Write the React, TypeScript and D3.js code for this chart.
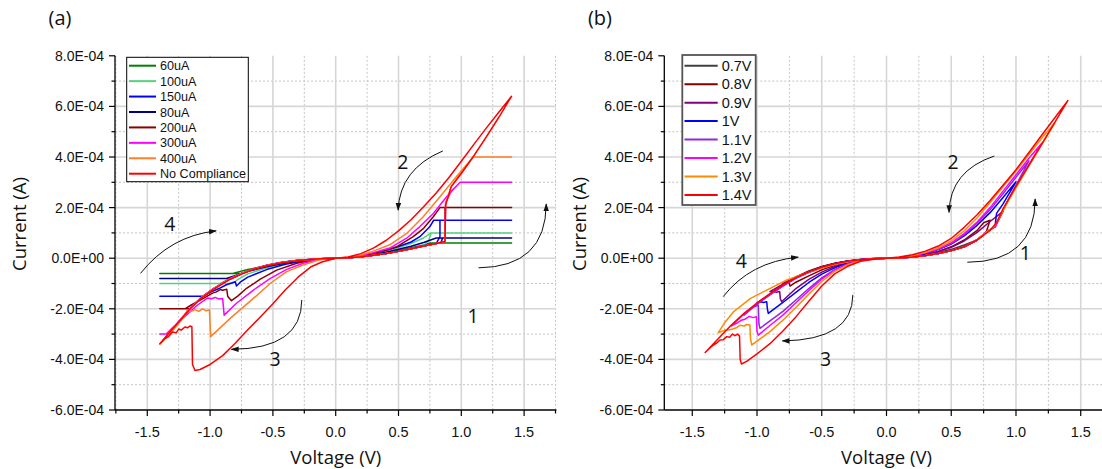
import React from "react";
import * as d3 from "d3";

type Pt = [number, number]; // [voltage V, current µA]

// ---------------- Panel (a): compliance current series ----------------
const a60uA: Pt[] = [
  [0, 0], [0.1, 2], [0.2, 6], [0.3, 12], [0.4, 19], [0.5, 27], [0.6, 37], [0.7, 48], [0.78, 57], [0.8, 60], [1.4, 60],
  [0.75, 60], [0.7, 52], [0.6, 41], [0.5, 31], [0.4, 22], [0.3, 14], [0.2, 7], [0.1, 2], [0, 0],
  [-0.12, -3], [-0.25, -8], [-0.4, -17], [-0.55, -30], [-0.7, -45], [-0.82, -60], [-1.4, -60],
  [-0.75, -60], [-0.655, -43], [-0.55, -29], [-0.44, -18], [-0.33, -10], [-0.23, -6], [-0.12, -2], [0, 0],
];
const a100uA: Pt[] = [
  [0, 0], [0.1, 2], [0.2, 6], [0.3, 12], [0.4, 19], [0.5, 28], [0.6, 38], [0.7, 50], [0.74, 70], [0.76, 100], [1.4, 100],
  [0.76, 100], [0.7, 80], [0.6, 58], [0.5, 42], [0.4, 28], [0.3, 17], [0.2, 9], [0.1, 3], [0, 0],
  [-0.12, -3], [-0.25, -9], [-0.4, -20], [-0.55, -38], [-0.7, -62], [-0.78, -85], [-0.82, -100], [-1.4, -100],
  [-0.92, -100], [-0.84, -80], [-0.75, -60], [-0.655, -42], [-0.55, -28], [-0.44, -17], [-0.33, -10], [-0.23, -6], [-0.12, -2], [0, 0],
];
const a150uA: Pt[] = [
  [0, 0], [0.1, 2], [0.2, 6], [0.3, 12], [0.4, 19], [0.5, 28], [0.6, 38], [0.7, 49], [0.8, 58], [0.83, 85], [0.83, 150], [1.4, 150],
  [0.78, 150], [0.75, 125], [0.67, 85], [0.6, 64], [0.5, 46], [0.4, 31], [0.3, 19], [0.2, 10], [0.1, 3], [0, 0],
  [-0.12, -3], [-0.25, -10], [-0.4, -24], [-0.55, -45], [-0.7, -75], [-0.76, -95], [-0.79, -110], [-0.8, -93], [-0.87, -105], [-0.93, -120], [-1.0, -135], [-1.05, -150], [-1.4, -150],
  [-1.055, -150], [-0.97, -119], [-0.84, -82], [-0.75, -62], [-0.655, -44], [-0.55, -29], [-0.44, -18], [-0.33, -10], [-0.23, -6], [-0.12, -2], [0, 0],
];
const a80uA: Pt[] = [
  [0, 0], [0.1, 2], [0.2, 6], [0.3, 12], [0.4, 19], [0.5, 27], [0.6, 37], [0.7, 48], [0.8, 58], [0.84, 63], [0.85, 80], [1.4, 80],
  [0.8, 80], [0.7, 62], [0.6, 47], [0.5, 35], [0.4, 24], [0.3, 15], [0.2, 8], [0.1, 2], [0, 0],
  [-0.12, -3], [-0.25, -9], [-0.4, -19], [-0.55, -34], [-0.7, -52], [-0.87, -80], [-1.4, -80],
  [-0.84, -80], [-0.75, -61], [-0.655, -43], [-0.55, -29], [-0.44, -18], [-0.33, -10], [-0.23, -6], [-0.12, -2], [0, 0],
];
const a200uA: Pt[] = [
  [0, 0], [0.1, 2], [0.2, 6], [0.3, 12], [0.4, 19], [0.5, 27], [0.6, 37], [0.7, 48], [0.8, 58], [0.87, 66], [0.87, 200], [1.4, 200],
  [0.83, 200], [0.777, 164], [0.7, 118], [0.617, 85], [0.485, 45], [0.4, 31], [0.3, 19], [0.2, 10], [0.1, 3], [0, 0],
  [-0.15, -5], [-0.31, -20], [-0.47, -47], [-0.6, -83], [-0.71, -119], [-0.78, -150], [-0.83, -168], [-0.86, -150], [-0.867, -123], [-0.9, -127], [-0.92, -124], [-0.95, -133], [-0.98, -138], [-1.05, -158], [-1.15, -185], [-1.2, -200], [-1.4, -200],
  [-1.16, -200], [-1.08, -160], [-0.97, -120], [-0.84, -81], [-0.75, -61], [-0.655, -43], [-0.55, -29], [-0.44, -18], [-0.33, -10], [-0.23, -6], [-0.12, -2], [0, 0],
];
const a300uA: Pt[] = [
  [0, 0], [0.1, 2], [0.2, 6], [0.3, 12], [0.4, 19], [0.5, 27], [0.6, 37], [0.7, 48], [0.8, 58], [0.87, 66], [0.875, 220], [0.92, 265], [0.99, 300], [1.4, 300],
  [0.99, 300], [0.883, 243], [0.777, 177], [0.67, 125], [0.565, 79], [0.43, 40], [0.3, 22], [0.2, 11], [0.1, 3], [0, 0],
  [-0.13, -5], [-0.26, -20], [-0.39, -44], [-0.52, -80], [-0.655, -126], [-0.79, -178], [-0.888, -225], [-0.9, -159], [-0.93, -161], [-0.96, -155], [-0.99, -160], [-1.02, -157], [-1.05, -168], [-1.1, -185], [-1.2, -230], [-1.3, -275], [-1.35, -300], [-1.4, -300],
  [-1.34, -300], [-1.24, -244], [-1.16, -198], [-1.08, -159], [-0.97, -119], [-0.84, -80], [-0.75, -60], [-0.655, -42], [-0.55, -28], [-0.44, -17], [-0.33, -10], [-0.23, -6], [-0.12, -2], [0, 0],
];
const a400uA: Pt[] = [
  [0, 0], [0.1, 2], [0.2, 6], [0.3, 12], [0.4, 19], [0.5, 27], [0.6, 37], [0.7, 48], [0.8, 58], [0.87, 66], [0.875, 215], [0.92, 283], [1.0, 340], [1.095, 400], [1.4, 400],
  [1.095, 400], [0.96, 322], [0.83, 243], [0.697, 164], [0.565, 98], [0.43, 53], [0.3, 28], [0.2, 13], [0.1, 4], [0, 0],
  [-0.13, -6], [-0.26, -27], [-0.39, -53], [-0.52, -99], [-0.655, -159], [-0.84, -238], [-0.995, -310], [-1.005, -205], [-1.03, -208], [-1.06, -200], [-1.09, -210], [-1.12, -203], [-1.16, -212], [-1.185, -208], [-1.2, -228], [-1.3, -288], [-1.4, -340],
  [-1.32, -292], [-1.24, -246], [-1.16, -200], [-1.08, -160], [-0.97, -120], [-0.84, -81], [-0.75, -61], [-0.655, -43], [-0.55, -29], [-0.44, -18], [-0.33, -10], [-0.23, -6], [-0.12, -2], [0, 0],
];
const aNoCompliance: Pt[] = [
  [0, 0], [0.1, 2], [0.2, 6], [0.3, 12], [0.4, 19], [0.5, 27], [0.6, 37], [0.7, 48], [0.8, 58], [0.87, 66], [0.875, 210], [0.92, 283], [1.0, 335], [1.1, 405], [1.2, 480], [1.3, 558], [1.4, 640],
  [1.3, 578], [1.2, 515], [1.1, 450], [1.0, 383], [0.9, 318], [0.8, 258], [0.7, 203], [0.6, 152], [0.5, 108], [0.4, 70], [0.3, 40], [0.2, 18], [0.1, 5], [0, 0],
  [-0.11, -15], [-0.2, -35], [-0.3, -75], [-0.4, -125], [-0.5, -180], [-0.6, -232], [-0.7, -283], [-0.8, -336], [-0.9, -385], [-1.0, -420], [-1.08, -440], [-1.12, -444], [-1.14, -420], [-1.145, -271], [-1.16, -268], [-1.18, -275], [-1.2, -272], [-1.23, -284], [-1.25, -280], [-1.27, -295], [-1.3, -292], [-1.33, -310], [-1.36, -318], [-1.4, -338],
  [-1.32, -292], [-1.24, -246], [-1.16, -201], [-1.08, -162], [-0.97, -122], [-0.84, -83], [-0.75, -63], [-0.655, -44], [-0.55, -30], [-0.44, -19], [-0.33, -11], [-0.23, -6], [-0.12, -2], [0, 0],
];
const namesA = ["60uA", "100uA", "150uA", "80uA", "200uA", "300uA", "400uA", "No Compliance"];
const colorsA = ["#008000", "#55d17e", "#0000ff", "#00008b", "#8b0000", "#ff00ff", "#ff7f27", "#ff0000"];
const seriesA = [a60uA, a100uA, a150uA, a80uA, a200uA, a300uA, a400uA, aNoCompliance];

// ---------------- Panel (b): stop voltage series ----------------
const b07V: Pt[] = [
  [0, 0], [0.1, 1], [0.2, 5], [0.3, 11], [0.4, 19], [0.5, 30], [0.6, 45], [0.7, 72],
  [0.6, 52], [0.5, 35], [0.4, 22], [0.3, 13], [0.2, 6], [0.1, 2], [0, 0],
  [-0.1, -2], [-0.2, -5], [-0.3, -12], [-0.4, -24], [-0.5, -38], [-0.6, -56], [-0.7, -75],
  [-0.6, -50], [-0.5, -33], [-0.4, -20], [-0.3, -11], [-0.2, -5], [-0.1, -1], [0, 0],
];
const b08V: Pt[] = [
  [0, 0], [0.1, 1], [0.2, 5], [0.3, 11], [0.4, 19], [0.5, 30], [0.6, 45], [0.7, 72], [0.77, 103], [0.8, 150],
  [0.75, 140], [0.7, 110], [0.6, 72], [0.5, 45], [0.4, 27], [0.3, 15], [0.2, 7], [0.1, 2], [0, 0],
  [-0.1, -2], [-0.2, -6], [-0.3, -15], [-0.4, -28], [-0.5, -46], [-0.6, -70], [-0.7, -95], [-0.745, -110], [-0.75, -100], [-0.755, -91], [-0.78, -95], [-0.8, -100],
  [-0.7, -74], [-0.6, -52], [-0.5, -34], [-0.4, -21], [-0.3, -11], [-0.2, -5], [-0.1, -1], [0, 0],
];
const b09V: Pt[] = [
  [0, 0], [0.1, 1], [0.2, 5], [0.3, 11], [0.4, 19], [0.5, 30], [0.6, 45], [0.7, 72], [0.77, 103], [0.84, 125], [0.9, 185],
  [0.8, 145], [0.7, 102], [0.6, 68], [0.5, 43], [0.4, 26], [0.3, 15], [0.2, 7], [0.1, 2], [0, 0],
  [-0.1, -2], [-0.2, -7], [-0.3, -17], [-0.4, -33], [-0.5, -55], [-0.6, -84], [-0.7, -120], [-0.81, -172], [-0.82, -160], [-0.825, -132], [-0.85, -135], [-0.88, -130], [-0.9, -132],
  [-0.8, -103], [-0.7, -76], [-0.6, -53], [-0.5, -35], [-0.4, -21], [-0.3, -12], [-0.2, -5], [-0.1, -2], [0, 0],
];
const b1V: Pt[] = [
  [0, 0], [0.1, 1], [0.2, 5], [0.3, 11], [0.4, 19], [0.5, 30], [0.6, 45], [0.7, 72], [0.774, 105], [0.838, 125], [0.85, 177], [0.9, 215], [1.0, 302],
  [0.9, 240], [0.8, 180], [0.7, 130], [0.6, 88], [0.5, 56], [0.4, 34], [0.3, 19], [0.2, 9], [0.1, 3], [0, 0],
  [-0.1, -2], [-0.2, -8], [-0.3, -20], [-0.4, -38], [-0.5, -63], [-0.6, -96], [-0.7, -135], [-0.8, -175], [-0.913, -218], [-0.92, -200], [-0.925, -172], [-0.95, -175], [-0.97, -172], [-1.0, -178],
  [-0.9, -143], [-0.8, -108], [-0.7, -78], [-0.6, -54], [-0.5, -36], [-0.4, -22], [-0.3, -12], [-0.2, -6], [-0.1, -2], [0, 0],
];
const b11V: Pt[] = [
  [0, 0], [0.1, 1], [0.2, 5], [0.3, 11], [0.4, 19], [0.5, 30], [0.6, 45], [0.7, 72], [0.77, 103], [0.84, 125], [0.87, 160], [0.95, 240], [1.1, 385],
  [1.0, 320], [0.9, 255], [0.8, 192], [0.7, 138], [0.6, 93], [0.5, 58], [0.4, 35], [0.3, 20], [0.2, 9], [0.1, 3], [0, 0],
  [-0.1, -3], [-0.2, -9], [-0.3, -23], [-0.4, -45], [-0.5, -78], [-0.6, -120], [-0.7, -165], [-0.8, -210], [-0.9, -248], [-0.977, -277], [-0.985, -260], [-0.99, -185], [-1.02, -192], [-1.05, -200], [-1.08, -212], [-1.1, -225],
  [-1.0, -182], [-0.9, -145], [-0.8, -110], [-0.7, -80], [-0.6, -56], [-0.5, -37], [-0.4, -23], [-0.3, -13], [-0.2, -6], [-0.1, -2], [0, 0],
];
const b12V: Pt[] = [
  [0, 0], [0.1, 1], [0.2, 5], [0.3, 11], [0.4, 19], [0.5, 30], [0.6, 45], [0.7, 72], [0.77, 103], [0.84, 125], [0.87, 160], [0.95, 240], [1.1, 370], [1.2, 455],
  [1.1, 395], [1.0, 330], [0.9, 265], [0.8, 200], [0.7, 143], [0.6, 97], [0.5, 61], [0.4, 37], [0.3, 21], [0.2, 10], [0.1, 3], [0, 0],
  [-0.1, -3], [-0.2, -9], [-0.3, -24], [-0.4, -47], [-0.5, -83], [-0.6, -128], [-0.7, -176], [-0.8, -225], [-0.9, -266], [-0.99, -304], [-1.0, -290], [-1.005, -231], [-1.03, -235], [-1.06, -230], [-1.09, -240], [-1.12, -245], [-1.15, -255], [-1.2, -268],
  [-1.1, -220], [-1.0, -178], [-0.9, -142], [-0.8, -108], [-0.7, -79], [-0.6, -56], [-0.5, -37], [-0.4, -23], [-0.3, -13], [-0.2, -6], [-0.1, -2], [0, 0],
];
const b13V: Pt[] = [
  [0, 0], [0.1, 1], [0.2, 5], [0.3, 11], [0.4, 19], [0.5, 30], [0.6, 45], [0.7, 72], [0.77, 103], [0.82, 120], [0.85, 140], [0.95, 235], [1.1, 365], [1.2, 450], [1.3, 535],
  [1.2, 475], [1.1, 410], [1.0, 345], [0.9, 282], [0.8, 220], [0.7, 160], [0.6, 108], [0.5, 68], [0.4, 41], [0.3, 23], [0.2, 11], [0.1, 3], [0, 0],
  [-0.1, -3], [-0.2, -10], [-0.3, -27], [-0.4, -52], [-0.5, -92], [-0.6, -142], [-0.7, -195], [-0.8, -245], [-0.9, -290], [-1.0, -328], [-1.04, -343], [-1.05, -320], [-1.055, -264], [-1.08, -262], [-1.1, -268], [-1.13, -265], [-1.16, -275], [-1.2, -282], [-1.25, -285], [-1.3, -295],
  [-1.25, -255], [-1.18, -211], [-1.05, -159], [-0.925, -126], [-0.77, -86], [-0.59, -53], [-0.45, -32], [-0.36, -20], [-0.25, -10], [-0.12, -3], [0, 0],
];
const b14V: Pt[] = [
  [0, 0], [0.1, 1], [0.2, 5], [0.3, 11], [0.4, 19], [0.5, 30], [0.6, 45], [0.7, 72], [0.8, 110], [0.85, 140], [0.9, 195], [1.0, 285], [1.1, 368], [1.2, 452], [1.3, 537], [1.4, 623],
  [1.3, 555], [1.2, 487], [1.1, 418], [1.0, 350], [0.9, 288], [0.8, 228], [0.7, 172], [0.6, 122], [0.5, 78], [0.4, 48], [0.3, 28], [0.2, 14], [0.1, 5], [0, 0],
  [-0.1, -4], [-0.2, -12], [-0.3, -32], [-0.4, -62], [-0.5, -110], [-0.6, -170], [-0.7, -232], [-0.8, -288], [-0.9, -338], [-1.0, -378], [-1.08, -408], [-1.12, -418], [-1.13, -400], [-1.135, -308], [-1.15, -300], [-1.17, -306], [-1.19, -300], [-1.21, -312], [-1.234, -310], [-1.26, -322], [-1.286, -323], [-1.31, -335], [-1.337, -343], [-1.37, -358], [-1.4, -373],
  [-1.3, -318], [-1.2, -265], [-1.1, -218], [-1.0, -177], [-0.9, -140], [-0.8, -106], [-0.7, -77], [-0.6, -54], [-0.5, -36], [-0.4, -22], [-0.3, -12], [-0.2, -6], [-0.1, -2], [0, 0],
];
const namesB = ["0.7V", "0.8V", "0.9V", "1V", "1.1V", "1.2V", "1.3V", "1.4V"];
const colorsB = ["#404040", "#800000", "#800080", "#0000ff", "#8a2be2", "#ff00ff", "#ff8c00", "#ff0000"];
const seriesB = [b07V, b08V, b09V, b1V, b11V, b12V, b13V, b14V];

// ---------------- Axis ticks ----------------
const xMajorTicks = [-1.5, -1.0, -0.5, 0.0, 0.5, 1.0, 1.5];
const xMinorTicks = [-1.75, -1.25, -0.75, -0.25, 0.25, 0.75, 1.25, 1.75];
const yMajorTicks = [-600, -400, -200, 0, 200, 400, 600, 800]; // µA
const yMinorTicks = [-500, -300, -100, 100, 300, 500, 700];

// ---------------- Annotations (data units) ----------------
type Ann = { label: string; text: Pt; start: Pt; ctrl: Pt; end: Pt };
const annA: Ann[] = [
  { label: "2", text: [0.535, 379], start: [0.853, 424], ctrl: [0.51, 352], end: [0.497, 190] },
  { label: "1", text: [1.094, -231], start: [1.137, -38], ctrl: [1.673, -35], end: [1.676, 214] },
  { label: "3", text: [-0.483, -398], start: [-0.27, -165], ctrl: [-0.27, -359], end: [-0.83, -360] },
  { label: "4", text: [-1.321, 135], start: [-1.554, -60], ctrl: [-1.318, 88], end: [-0.952, 108] },
];
const annB: Ann[] = [
  { label: "2", text: [0.515, 379], start: [0.833, 404], ctrl: [0.49, 345], end: [0.483, 181] },
  { label: "1", text: [1.073, 19], start: [0.624, -16], ctrl: [1.147, -15], end: [1.148, 234] },
  { label: "3", text: [-0.47, -400], start: [-0.26, -145], ctrl: [-0.26, -323], end: [-0.804, -327] },
  { label: "4", text: [-1.122, -12], start: [-1.261, -152], ctrl: [-1.054, -15], end: [-0.682, 4] },
];

const yScale = d3.scaleLinear().domain([-600, 800]).range([410, 55.8]);
const xScaleA = d3.scaleLinear().domain([-1.757, 1.757]).range([115, 556.4]);
const xScaleB = d3.scaleLinear().domain([-1.716, 1.716]).range([664.3, 1108.7]);

function fmtA(uA: number): string {
  const a = uA * 1e-6;
  if (Math.abs(a) < 1e-12) return "0.0E+00";
  const [m, e] = a.toExponential(1).split("e");
  const en = parseInt(e, 10);
  return `${m}E${en < 0 ? "-" : "+"}${String(Math.abs(en)).padStart(2, "0")}`;
}

type LegendCfg = {
  x: number; y: number; w: number; h: number; row0: number; step: number;
  l1: number; l2: number; tx: number; fs: number; stroke: string; sw: number;
};

const TICK_FONT = "'Liberation Sans', Arial, sans-serif";
const LABEL_FONT = "'Open Sans', 'Liberation Sans', sans-serif";

function Panel(props: {
  xs: d3.ScaleLinear<number, number>;
  series: Pt[][]; colors: string[]; names: string[];
  legend: LegendCfg; ann: Ann[]; title: string; titleX: number; yTitleX: number; clipId: string;
}) {
  const { xs, series, colors, names, legend, ann, title, titleX, yTitleX, clipId } = props;
  const [x0, x1] = xs.range();
  const xRight = Math.min(x1, 1102);
  const y0 = yScale(-600);
  const yTop = yScale(800);
  const line = d3.line<Pt>().x((d) => xs(d[0])).y((d) => yScale(d[1])).curve(d3.curveLinear);
  const inX = (v: number) => v >= xs.domain()[0] && v <= xs.domain()[1];
  const tx = (p: Pt) => xs(p[0]);
  const ty = (p: Pt) => yScale(p[1]);
  return (
    <g>
      <defs>
        <clipPath id={clipId}>
          <rect x={x0} y={yTop - 5} width={xRight - x0} height={y0 - yTop + 5} />
        </clipPath>
      </defs>
      {/* grid */}
      <g clipPath={`url(#${clipId})`}>
        {xMinorTicks.filter(inX).map((v) => (
          <line key={"xm" + v} x1={xs(v)} x2={xs(v)} y1={yTop} y2={y0} stroke="#c4c4c4" strokeWidth={1} strokeDasharray="2,2" />
        ))}
        {yMinorTicks.map((v) => (
          <line key={"ym" + v} x1={x0} x2={xRight} y1={yScale(v)} y2={yScale(v)} stroke="#c4c4c4" strokeWidth={1} strokeDasharray="2,2" />
        ))}
        {xMajorTicks.map((v) => (
          <line key={"xM" + v} x1={xs(v)} x2={xs(v)} y1={yTop} y2={y0} stroke="#d6d6d6" strokeWidth={1.6} />
        ))}
        {yMajorTicks.filter((v) => v > -600 && v < 800).map((v) => (
          <line key={"yM" + v} x1={x0} x2={xRight} y1={yScale(v)} y2={yScale(v)} stroke="#d6d6d6" strokeWidth={1.6} />
        ))}
      </g>
      {/* curves */}
      <g clipPath={`url(#${clipId})`} fill="none" strokeLinejoin="round">
        {series.map((s, i) => (
          <path key={names[i]} d={line(s) || ""} stroke={colors[i]} strokeWidth={1.5} />
        ))}
      </g>
      {/* axes */}
      <line x1={x0} x2={x0} y1={yTop} y2={y0} stroke="#000" strokeWidth={1.3} />
      <line x1={x0} x2={xRight} y1={y0} y2={y0} stroke="#000" strokeWidth={1.3} />
      {yMajorTicks.map((v) => (
        <g key={"yt" + v}>
          <line x1={x0 - 6} x2={x0} y1={yScale(v)} y2={yScale(v)} stroke="#000" strokeWidth={1.2} />
          <text x={x0 - 11} y={yScale(v)} dy="0.35em" textAnchor="end" fontSize={14} fontFamily={TICK_FONT} fill="#111">
            {fmtA(v)}
          </text>
        </g>
      ))}
      {yMinorTicks.map((v) => (
        <line key={"ytm" + v} x1={x0 - 3.5} x2={x0} y1={yScale(v)} y2={yScale(v)} stroke="#000" strokeWidth={1.2} />
      ))}
      {xMajorTicks.map((v) => (
        <g key={"xt" + v}>
          <line x1={xs(v)} x2={xs(v)} y1={y0} y2={y0 + 6} stroke="#000" strokeWidth={1.2} />
          <text x={xs(v)} y={437} textAnchor="middle" fontSize={14.5} fontFamily={TICK_FONT} fill="#111">
            {v.toFixed(1)}
          </text>
        </g>
      ))}
      {xMinorTicks.filter(inX).map((v) => (
        <line key={"xtm" + v} x1={xs(v)} x2={xs(v)} y1={y0} y2={y0 + 3.5} stroke="#000" strokeWidth={1.2} />
      ))}
      {/* titles */}
      <text x={xs(0)} y={464} textAnchor="middle" fontSize={18.5} fontFamily={LABEL_FONT} fill="#111">Voltage (V)</text>
      <text transform={`translate(${yTitleX},224) rotate(-90)`} textAnchor="middle" dy="0.35em" fontSize={18.5} fontFamily={LABEL_FONT} fill="#111">Current (A)</text>
      <text x={titleX} y={18} dy="0.35em" textAnchor="middle" fontSize={20} fontFamily={LABEL_FONT} fill="#111">{title}</text>
      {/* annotations */}
      {ann.map((a) => (
        <g key={"an" + a.label}>
          <path
            d={`M${tx(a.start)},${ty(a.start)} Q${tx(a.ctrl)},${ty(a.ctrl)} ${tx(a.end)},${ty(a.end)}`}
            fill="none" stroke="#111" strokeWidth={1} markerEnd="url(#arrowHead)"
          />
          <text x={tx(a.text)} y={ty(a.text)} dy="0.35em" textAnchor="middle" fontSize={19.5} fontFamily={LABEL_FONT} fill="#111">
            {a.label}
          </text>
        </g>
      ))}
      {/* legend */}
      <rect x={legend.x} y={legend.y} width={legend.w} height={legend.h} fill="#fff" stroke={legend.stroke} strokeWidth={legend.sw} />
      {names.map((n, i) => {
        const yy = legend.row0 + i * legend.step;
        return (
          <g key={"lg" + n}>
            <line x1={legend.l1} x2={legend.l2} y1={yy} y2={yy} stroke={colors[i]} strokeWidth={2} />
            <text x={legend.tx} y={yy} dy="0.36em" fontSize={legend.fs} fontFamily={TICK_FONT} fill="#111">{n}</text>
          </g>
        );
      })}
    </g>
  );
}

const legendCfgA: LegendCfg = { x: 126.7, y: 57.3, w: 121.6, h: 124.4, row0: 65.7, step: 15.43, l1: 129, l2: 156, tx: 160, fs: 12.6, stroke: "#000", sw: 1 };
const legendCfgB: LegendCfg = { x: 682.3, y: 55, w: 73.4, h: 150, row0: 65.7, step: 18.47, l1: 684.5, l2: 717.7, tx: 721.7, fs: 14.5, stroke: "#555", sw: 1.8 };

export default function App() {
  return (
    <svg width={1102} height={469} style={{ position: "absolute", left: 0, top: 0, background: "#fff" }}>
      <defs>
        <marker id="arrowHead" viewBox="0 0 10 10" refX="9" refY="5" markerWidth="8" markerHeight="8" orient="auto">
          <path d="M0,1.5 L10,5 L0,8.5 Z" fill="#111" />
        </marker>
      </defs>
      <rect x={0} y={0} width={1102} height={469} fill="#fff" />
      <Panel xs={xScaleA} series={seriesA} colors={colorsA} names={namesA} legend={legendCfgA} ann={annA} title="(a)" titleX={60} yTitleX={20} clipId="clipA" />
      <Panel xs={xScaleB} series={seriesB} colors={colorsB} names={namesB} legend={legendCfgB} ann={annB} title="(b)" titleX={600} yTitleX={580} clipId="clipB" />
    </svg>
  );
}
